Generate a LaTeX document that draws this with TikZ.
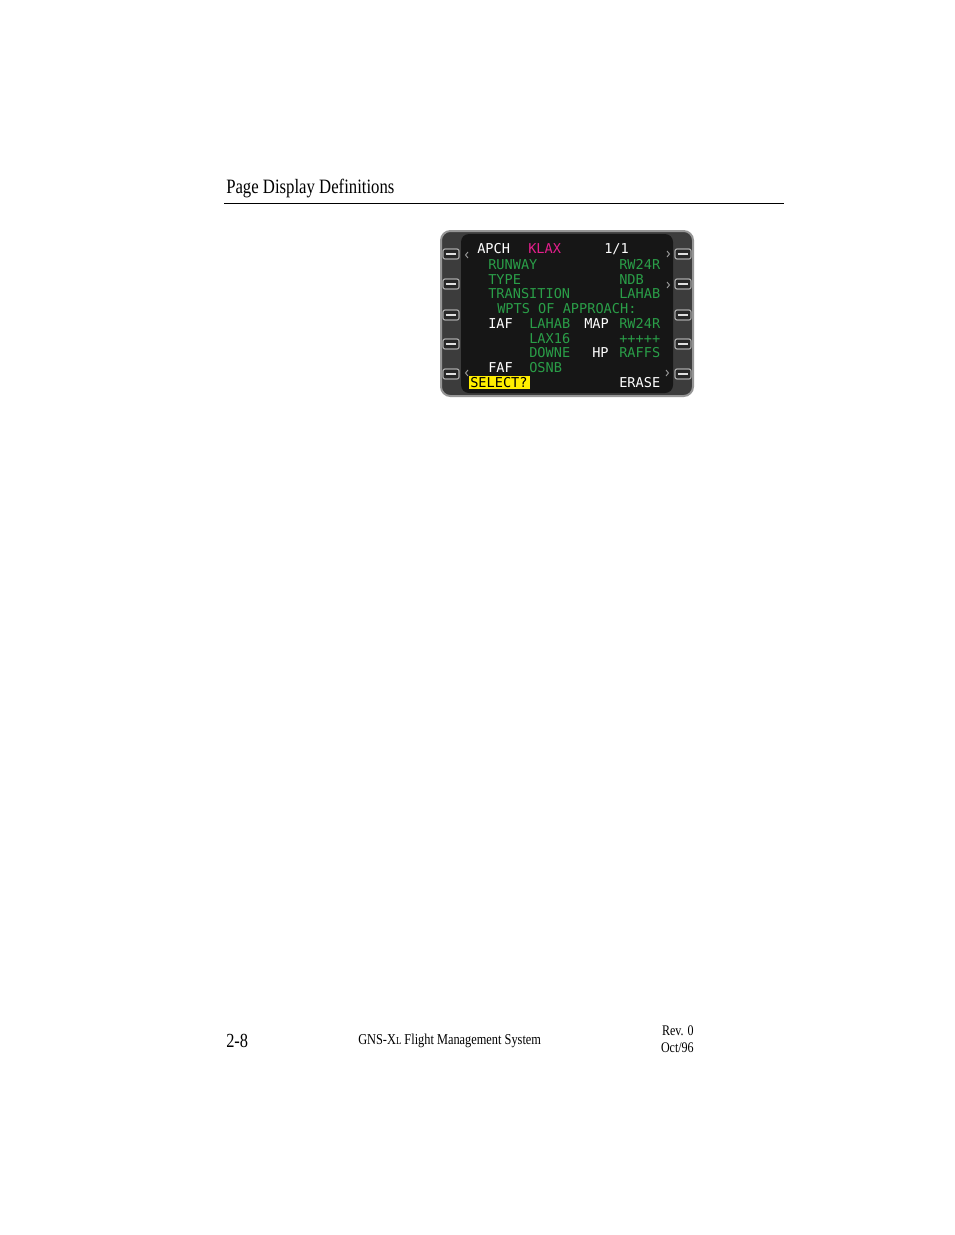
\documentclass[tikz,border=0pt]{standalone}
\usepackage{fontspec}
\setmainfont{Liberation Serif}
\newfontfamily\cond[FakeStretch=0.82]{Liberation Serif}
\newfontfamily\lcd{DejaVu Sans Mono}
\definecolor{bezel}{RGB}{60,60,60}
\definecolor{bezeledge}{RGB}{150,150,150}
\definecolor{scr}{RGB}{22,22,22}
\definecolor{lcdgreen}{RGB}{42,158,72}
\definecolor{lcdmag}{RGB}{228,30,140}
\definecolor{lcdyellow}{RGB}{255,238,0}
\definecolor{btn}{RGB}{40,40,40}
\begin{document}
\begin{tikzpicture}[x=0.75pt,y=-0.75pt,
  lcd/.style={anchor=base west, inner sep=0pt, font=\lcd\fontsize{10.2}{12}\selectfont},
  wt/.style={lcd, text=white},
  gr/.style={lcd, text=lcdgreen},
  mg/.style={lcd, text=lcdmag},
  key/.style={draw=gray!70, fill=btn, line width=0.9pt, rounded corners=1.5pt, minimum width=12pt, minimum height=7.5pt, inner sep=0pt},
  keybar/.style={draw=white!88!black, line width=1.6pt},
  chev/.style={draw=gray!80, line width=0.7pt},
  serif/.style={inner sep=0pt, font=\cond}
]
\useasboundingbox[fill=white] (0,0) rectangle (954,1235);

% header
\node[serif, anchor=base west, font=\cond\fontsize{15.3}{17}\selectfont] (title) at (226,193) {Page Display Definitions};
\coordinate (ruleL) at (224,203);
\coordinate (ruleR) at (784,203);
\draw[line width=0.6pt] (ruleL) -- (ruleR);

% bezel and screen
\draw[fill=bezel, draw=bezeledge, line width=1.5pt, rounded corners=7pt] (441,231) rectangle (693,396);
\fill[scr, rounded corners=6pt] (461,234) rectangle (673,393);

% soft keys
\foreach \yy [count=\i] in {254,284,315,344,374}{
  \node[key] (L\i) at (451,\yy) {};
  \draw[keybar] ([xshift=2.5pt]L\i.west) -- ([xshift=-2.5pt]L\i.east);
  \node[key] (R\i) at (683,\yy) {};
  \draw[keybar] ([xshift=2.5pt]R\i.west) -- ([xshift=-2.5pt]R\i.east);
}

% chevrons
\draw[chev] (468,252) -- (465.5,255) -- (468,258);
\draw[chev] (667,251) -- (669.5,254) -- (667,257);
\draw[chev] (667,282) -- (669.5,285) -- (667,288);
\draw[chev] (468,370) -- (465.5,373) -- (468,376);
\draw[chev] (666,370) -- (668.5,373) -- (666,376);

% screen text
\node[wt] (apch) at (477,253) {APCH};
\node[mg] (klax) at (528,253) {KLAX};
\node[wt] (page) at (604,253) {1/1};

\node[gr] (runway) at (488,269) {RUNWAY};
\node[gr] (rwy) at (619,269) {RW24R};
\node[gr] (type) at (488,284) {TYPE};
\node[gr] (ndb) at (619,284) {NDB};
\node[gr] (trans) at (488,298) {TRANSITION};
\node[gr] (lahab1) at (619,298) {LAHAB};
\node[gr] (wpts) at (497,313) {WPTS OF APPROACH:};

\node[wt] (iaf) at (488,328) {IAF};
\node[gr] (lahab2) at (529,328) {LAHAB};
\node[wt] (map) at (584,328) {MAP};
\node[gr] (rwy2) at (619,328) {RW24R};
\node[gr] (lax16) at (529,343) {LAX16};
\node[gr] (plus) at (619,343) {+++++};
\node[gr] (downe) at (529,357) {DOWNE};
\node[wt] (hp) at (592,357) {HP};
\node[gr] (raffs) at (619,357) {RAFFS};
\node[wt] (faf) at (488,372) {FAF};
\node[gr] (osnb) at (529,372) {OSNB};

\fill[lcdyellow] (469,376) rectangle (529.5,389);
\node[lcd, text=black] (select) at (470,387) {SELECT?};
\node[wt] (erase) at (619,387) {ERASE};

% footer
\node[serif, anchor=base west, font=\cond\fontsize{15}{17}\selectfont] (pg) at (226,1047) {2-8};
\node[serif, anchor=base west, font=\cond\fontsize{11.3}{13}\selectfont] (sys) at (358,1044) {GNS-X{\fontsize{8}{9}\selectfont L} Flight Management System};
\node[serif, anchor=base east, font=\cond\fontsize{11}{13}\selectfont] (rev) at (694,1035) {Rev. 0};
\node[serif, anchor=base east, font=\cond\fontsize{11}{13}\selectfont] (date) at (694,1052) {Oct/96};
\end{tikzpicture}
\end{document}
